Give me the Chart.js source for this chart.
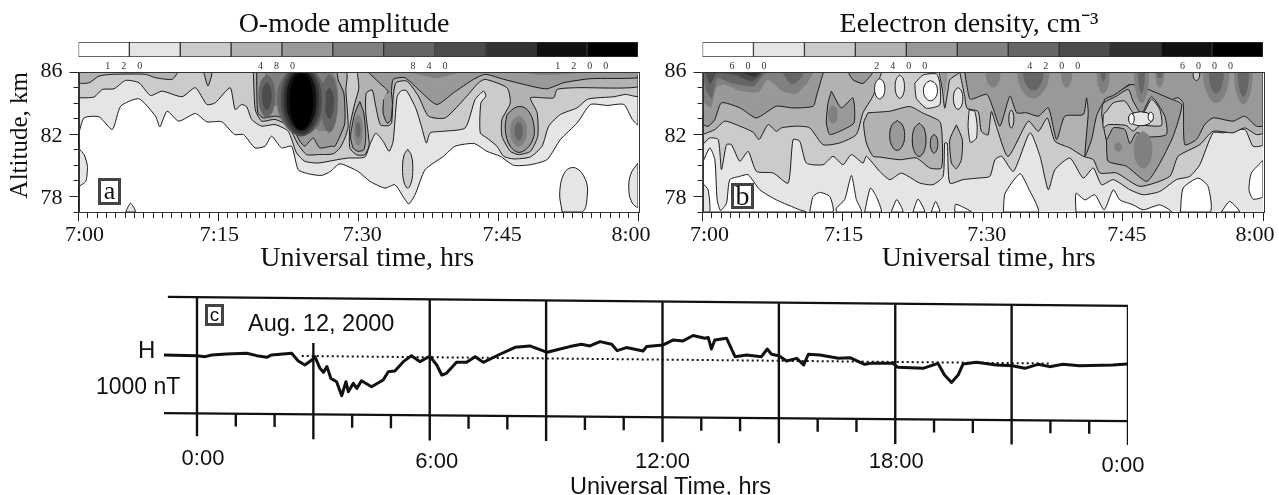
<!DOCTYPE html>
<html><head><meta charset="utf-8">
<style>
html,body{margin:0;padding:0;background:#fff;width:1279px;height:495px;overflow:hidden}
canvas{position:absolute}
.t{position:absolute;color:#111;white-space:nowrap;line-height:1}
.box{position:absolute;border:3px solid #444;box-sizing:border-box;text-align:center;color:#111}
</style>
<script src="https://cdn.jsdelivr.net/npm/chart.js@4"></script>
</head><body>
<script>
// ---------- shared values ----------
const levelColors=['#ffffff','#e5e5e5','#cbcbcb','#b2b2b2','#999999','#808080','#666666','#4c4c4c','#333333','#111111','#000000'];
const ampBand=120, denBand=600;
const ampTicks=[120,480,840,1200], denTicks=[600,2400,4200,6000];
const timeTicks=[0,15,30,45,60], timeLabels=['7:00','7:15','7:30','7:45','8:00'];
const altTicks=[78,82,86];

// ---------- panel a contours: [minute after 7:00, altitude km] ----------
const aL1=[[0,81.98],[.6,83.05],[2.2,83.12],[3.63,82.3],[4.52,83.8],[6.48,84.28],[8.26,83.16],[8.72,82.47],[9.5,83.48],[10.75,82.84],[12.53,83.33],[13.77,82.8],[15.37,82.8],[16.73,81.98],[17.69,81.98],[18.93,81.12],[20,81.23],[20.71,81.87],[21.78,81.12],[22.85,81.23],[23.56,79.72],[24.63,79.46],[26.05,79.35],[27,79.6],[28.03,80.1],[30,79.6],[31.25,78.97],[32.87,78.54],[33.94,78.75],[35.38,77.53],[36.09,78.11],[37.17,79.72],[39.14,80.58],[40.39,81.23],[42.44,81.4],[43.8,80.9],[45.23,80.58],[46.67,80],[48.46,80.04],[50.25,80.37],[51.68,81.66],[53.48,82.73],[54.91,83.91],[56.7,83.85],[58.49,83.91],[59.39,82.95],[60,82.62],[60,86],[0,86]];
const aL1b=[[0,81.1],[.6,80.69],[.96,79.94],[.78,78.97],[0,78.69]];
const aL1c=[[5.05,77],[5.58,77.57],[6.12,77]];
const aL1d=[[51.86,77],[51.61,78.32],[52.22,79.61],[53.3,79.83],[54.37,79.08],[54.55,78],[54.01,77]];
const aL1e=[[60,80.15],[59.2,79.4],[59.03,78.32],[59.4,77.57],[60,77.35]];
const aL2=[[0,84.34],[1.67,84.39],[2.56,84.88],[3.81,84.92],[5.05,85.46],[6.48,85.31],[7.72,84.49],[8.97,84.77],[11.1,84.41],[12.53,84.99],[13.77,83.91],[14.66,84.02],[16.26,84.99],[16.8,83.59],[17.5,83.91],[18.04,83.76],[18.58,82.95],[19.64,82.52],[21.07,82.62],[22.49,82.19],[23.38,80.8],[24.27,80.26],[25.69,80.15],[27.83,80.37],[28.92,80.47],[30.7,80.53],[31.24,81.32],[31.88,82.07],[32.67,81.54],[33.31,80.9],[33.74,81.54],[34.17,84.42],[34.63,84.8],[35.17,84.8],[36.17,83.67],[36.78,82.5],[37.31,81.43],[37.71,82.09],[39.14,82.19],[41.47,82.41],[42.54,84.24],[43.44,84.77],[43.69,84.45],[43.15,84.02],[43.08,82.09],[43.8,81.76],[44.87,81.23],[45.59,80.58],[46.67,80.41],[48.46,80.54],[49.71,81.23],[50.43,82.52],[51.68,83.27],[53.48,83.7],[54.55,84.24],[55.63,84.34],[57.42,84.41],[58.67,84.56],[60,84.45],[60,86],[0,86]];
const aL3a=[[18.75,86],[18.86,84.24],[19,83.48],[19.64,82.84],[21.07,82.95],[22.49,82.52],[23.56,81.33],[24.45,80.69],[25.69,80.69],[27.31,80.74],[28.03,81.11],[28.56,81.75],[28.92,82.5],[28.67,84.85],[28.67,86]];
const aL3b=[[0,86],[0,85.31],[1.14,85.31],[2.2,85.74],[3.63,85.85],[7.19,85.85],[8.26,85.63],[10.04,85.53],[10.57,86]];
const aL3c=[[13.42,86],[13.88,85.1],[14.31,86]];
const aL3d=[[29.9,86],[30.06,84.95],[29.63,83.99],[29.1,82.5],[29.1,81.11],[29.81,80.68],[30.7,80.68],[31.17,81.32],[30.81,83.35],[30.85,84.63],[31.49,84.85],[31.88,83.78],[32.38,82.6],[33.24,82.55],[33.58,82.73],[33.76,84.45],[34.05,85.31],[35.2,85.42],[36.45,84.45],[37.53,83.16],[39.32,83.05],[41.65,84.45],[42.9,85.31],[43.62,85.53],[45.95,84.99],[46.31,84.02],[45.41,82.95],[45.41,81.87],[46.31,80.9],[47.2,80.69],[48.46,80.9],[49.25,81.87],[49.18,83.38],[48.46,84.34],[49.89,84.34],[50.97,84.34],[51.33,84.88],[53.48,84.99],[60,85.05],[60,86]];
const aL4a=[[19.1,86],[19.22,83.38],[19.82,83.05],[21.25,83.16],[22.67,82.73],[23.74,81.55],[24.27,81.23],[25.16,81.76],[25.87,81.12],[27.12,81.23],[27.49,81.22],[28.03,81.86],[28.56,82.71],[28.46,84.63],[27.85,85.49],[27.67,86],[26.9,86],[26.5,85.5],[26.2,86]];
const aL4b=[[30.17,84.1],[30.6,83.35],[30.81,81.86],[30.6,81],[29.99,80.9],[29.46,81.11],[29.17,81.86],[29.63,83.35]];
const aL4c=[[31.06,86],[32.31,85.28],[33.2,84.74],[32.74,84.2],[32.67,83.35],[33.1,82.71],[33.49,82.9],[33.67,84],[33.56,84.74],[33.76,85.53],[35.02,85.63],[36.45,84.88],[38.42,83.91],[40.22,84.67],[42.37,85.53],[43.62,85.85],[45.59,85.53],[48.82,85.05],[50.25,84.92],[52.04,85.31],[54.91,85.57],[60,85.63],[60,86]];
const aL4d=[[45.95,83.27],[47.03,83.76],[48.1,83.59],[48.82,82.62],[48.64,81.55],[47.38,80.84],[46.31,81.23],[45.77,82.3]];
const aL5a=[[19.6,86],[19.6,83.6],[21.3,83.5],[23,83],[24,82],[24.5,81.6],[25,82.1],[25.9,81.6],[27.3,81.7],[28,83],[28.2,84.5],[27.5,85.8],[27.5,86]];
const aL5b=[[33.5,86],[35.5,85.8],[37,85.2],[38.4,84.4],[39.8,85],[41.5,85.7],[42.5,86]];
const aL5c=[[44.5,86],[46.5,85.6],[50,85.4],[52,85.7],[55,85.8],[60,85.85],[60,86]];
const aL6a=[[20,86],[20,83.9],[21.5,83.8],[23,83.5],[24,82.5],[25,82.5],[26,82.2],[27,82.3],[27.7,83.5],[27.8,85],[27.2,86]];
const aL6b=[[34,86],[36,85.9],[38.3,85.6],[40.5,85.9],[41,86]];
const aL6c=[[47,86],[50,85.8],[53,85.9],[54,86]];
// extents of closed ovals: [level, centre min, centre km, half-width min, half-height km]
const aOvals=[[2,35.3,79.78,.55,1.25],[5,29.99,82.28,.5,1.0],[6,29.99,82.28,.25,.5],[4,33.05,84,.3,.7],[5,47.2,82.2,.9,1.0],[6,47.2,82.2,.45,.6],
 [6,20.2,84.45,.9,1.4],[7,20.2,84.45,.5,.9],[6,26.9,84,.9,1.9],[7,26.9,84,.5,1.0],
 [6,23.9,84.2,2.6,2.3],[7,23.9,84.2,2.2,2.35],[8,23.9,84.2,1.9,2.2],[9,23.9,84.2,1.6,2.0],[10,23.9,84.15,1.25,1.85]];

// ---------- panel b contours ----------
const bBase=[[0,77],[60,77],[60,86],[0,86]];
const bW=[
 [[0,80.15],[.78,81.12],[1.32,80.37],[1.57,77.78],[1.93,77.1],[2.57,77.57],[2.92,79.08],[3.99,79.29],[4.88,79.4],[6.13,78.43],[7.91,77.78],[10.41,77.14],[11.12,77],[0,77]],
 [[11.48,77],[11.84,78],[12.55,78.26],[13.62,78],[13.97,77]],
 [[14.33,77],[14.33,77.25],[15.22,77.8],[15.94,79.35],[16.47,77.8],[17,77]],
 [[17.36,77],[17.97,78.54],[18.6,78],[19.14,77]],
 [[20.2,77],[20.8,77.8],[21.46,77]],
 [[22.53,77],[23.07,77.83],[23.78,77]],
 [[24.49,77],[24.96,77.68],[25.4,77]],
 [[27,77],[27.1,77.5],[28.8,77]],
 [[32.21,77],[32.39,78.2],[33.99,79.46],[34.88,78.54],[35.95,77]],
 [[39.98,77],[39.98,78.2],[40.94,77.78],[42,78.11],[43,77.14],[43.97,78.43],[44.68,77.78],[46.11,77.46],[47.17,77.14],[48.95,77.46],[50.2,77]],
 [[51.16,77],[51.45,78.54],[53.05,79.18],[54.12,78.65],[54.37,77]],
 [[55.54,77],[56.43,77.68],[57.5,77]],
 [[60,80.32],[58.75,79.5],[58.5,78.43],[58.93,77.83],[60,78]]
];
const bE=[[0,78.86],[.6,78.43],[.78,77],[0,77]];
const bL2=[[0,81.33],[.78,81.76],[1.68,81.66],[2.03,79.72],[2.57,81.33],[3.1,81.33],[3.99,80.26],[4.88,80.9],[5.78,79.61],[7.56,79.51],[9.16,78.86],[9.7,81.66],[10.41,81.55],[11.12,80.15],[12.91,80.04],[13.97,80.58],[15.04,80.04],[15.94,80.69],[17.18,80.15],[17.54,80.58],[18.97,79.61],[20.05,79.08],[21.3,79.5],[23.26,78.86],[24.68,78.76],[25.75,79.29],[25.93,81.43],[26.2,81.43],[26.47,78.86],[27.89,79.08],[29.68,79.19],[30.75,79.29],[31.32,80.37],[32.03,80.58],[33.28,79.61],[35.06,82.09],[36.13,80.58],[37.02,78.43],[37.73,79.72],[39.33,80.47],[40.76,79.18],[41.83,79.83],[42.72,78.75],[43.97,79.08],[45.75,78.43],[47.17,78.11],[48.95,78.32],[50.73,79.08],[52.16,79.29],[53.23,80.04],[54.65,82.09],[55.72,82.09],[58.04,82.3],[58.93,81.23],[60,81.33],[60,86],[0,86]];
const bL3a=[[0,81.98],[1.32,82.3],[2.39,82.84],[3.99,82.52],[5.42,82.13],[6.06,81.66],[7.02,82.62],[7.91,82.19],[8.45,82.41],[10.05,82.52],[11.48,82.41],[12.91,81.33],[14.69,81.44],[16.47,81.98],[17.18,83.38],[18.25,84.45],[18.97,85.63],[19.1,86],[0,86]];
const bL3b=[[17.72,83.38],[20.04,83.48],[22.19,83.78],[23.62,83.35],[25.4,82.82],[25.65,81.86],[25.58,79.83],[24.33,79.83],[22.9,80.47],[21.12,80.36],[18.98,80.53],[18.25,80.58],[17.54,81.44],[17.25,82.73]];
const bL3c=[[27.18,82.6],[27.82,81.64],[27.71,80.36],[27.18,79.78],[26.65,80.15],[26.47,81.64]];
const bL3d=[[25.33,86],[25.68,84.85],[25.93,83.67],[26.29,84.85],[26.47,85.5],[27.54,86]];
const bL3e=[[27.54,86],[28.07,84.42],[28.32,83.67],[29.5,83.46],[29.85,82.18],[30.57,81.96],[30.92,83.46],[31.46,82.5],[32.71,80.57],[34.88,82.84],[35.95,82.19],[36.91,83.05],[37.73,81.55],[39.33,81.12],[40.76,80.58],[41.83,80.37],[42.54,79.51],[44.32,79.51],[46.82,78.65],[50.02,79.29],[50.91,80.58],[53.23,81.33],[54.65,82.19],[56.79,82.09],[58.04,82.41],[59.28,81.98],[60,82.09],[60,86]];
const bL4a=[[0,82.62],[.6,82.51],[1.32,82.95],[2.03,84.02],[3.99,83.7],[5.78,83.05],[7.91,83.8],[9.7,83.69],[11.84,83.8],[12.2,84.45],[12.91,85.91],[13.08,86],[0,86]];
const bL4b=[[13.8,84.77],[14.87,83.7],[16.1,84.34],[16.22,82.73],[14.69,82.19],[13.62,81.98],[13.26,82.73],[13.44,84.02]];
const bL4c=[[15.58,86],[16.1,85.5],[17.18,85.27],[18.25,85.96],[18.25,86]];
const bL4d=[[28.07,86],[28.32,85.06],[28.68,84.25],[30.43,84.56],[31.14,83.6],[31.85,82.52],[32.92,84.45],[33.63,83.38],[34.7,83.38],[35.95,83.16],[37.02,83.7],[37.91,81.66],[38.8,83.16],[40.76,83.27],[41.11,84.34],[41.29,83.38],[40.94,80.58],[41.65,81.66],[42.18,83.16],[42.9,84.02],[44.32,84.56],[45.75,85.2],[46.1,84.24],[46.99,83.38],[48.06,84.45],[49.49,83.16],[50.38,84.24],[50.91,84.34],[51.45,84.02],[51.62,81.33],[52.87,81.66],[53.76,82.62],[54.65,83.05],[56.79,82.84],[58.04,83.16],[59.28,82.52],[60,82.56],[60,86]];
const bBowl=[[43.25,81.44],[43.43,80.26],[45.39,79.94],[47.53,78.97],[48.77,79.94],[50.38,81.87],[51.3,83.9],[50,84.3],[46,85.2],[44,84.5],[43,84.2]];
const bHoleB=[[42.72,83.27],[42.9,83.98],[44.32,84.45],[45.57,84.88],[46.1,84.13],[46.99,83.33],[48.06,84.41],[49.49,83.16],[49.67,81.98],[47.88,81.83],[46.46,82.09],[45.75,81.4],[45.21,82.3],[43.97,82.41],[43.25,81.66]];
const bHoleC=[[42.9,83.27],[42.9,82.41],[43.43,82.62],[45.39,82.56],[46.1,82.19],[46.81,82.56],[49.13,82.56],[48.95,83.59],[48.06,84.24],[46.99,83.16],[46.1,83.38],[45.21,84.13],[43.97,84.02],[43.25,83.48]];
const bFinger=[[28.54,83.57],[29.14,83.46],[29.39,82.6],[29.32,81.75],[28.68,81.47],[28.43,82.5]];
const bTopRing=[[22.72,85.28],[23.61,85.81],[25.04,85.87],[25.4,85.28],[25.4,83.89],[23.97,83.67],[22.9,84.31]];
const bL5=[[0,83.3],[.7,83.1],[1.3,83.7],[2,84.8],[4,84.2],[5.8,83.8],[7.9,84.3],[9.7,84.2],[11.5,84.4],[12.2,85.2],[12.7,86],[0,86]];
const bL6=[[.2,84],[.9,83.7],[1.5,85],[2.3,85.2],[4,84.8],[6,84.7],[7,85.5],[8.5,84.8],[10,84.6],[11.2,85.3],[11.8,86],[0,86]];
const bL7a=[[.4,84.8],[1,84.3],[1.6,85.6],[3,85.3],[5.5,85.1],[6.5,85.8],[6.9,86],[0,86]];
const bL7b=[[8.5,86],[9.5,85.2],[10.2,85.4],[10.8,86]];
const bL8=[[.3,86],[.8,85.2],[1.5,85.9],[3.5,85.8],[5.3,85.4],[6.4,86]];
const bL9=[[4,86],[5.5,85.7],[6.2,86]];
const bWedge=[[25.5,86],[25.93,84.5],[26.2,86]];
const bOvalsLined=[[0,18.97,84.92,.55,.65],[1,21.12,85.06,.5,.75],[0,24.4,84.8,.75,.65],[1,27.36,84.3,.5,.7],[4,20.84,81.92,.8,.96],[4,23.19,81.64,.73,1.07],[4,24.79,81.39,.4,.6],[2,33.06,82.98,.27,.58],[2,52.87,85.85,.35,.4]];
const bOvalsInner=[[1,46.9,83,1.3,.45],[0,45.92,82.99,.3,.35],[0,47.99,83.12,.28,.3]];
const bOvalsShade=[[5,13.97,83.27,.5,.6],[5,47.17,81.01,1,1.2],[5,44.5,81.18,.4,.3],
 [5,31.1,86,.8,1],[5,35.41,86,1.7,1.7],[5,38.98,86,.6,1],[5,42.9,86,.7,1.4],[5,47,86,.8,2],[5,48.95,86,.5,1],[5,55,86,1.4,2],[5,57.9,86,1,2.1],
 [6,35.41,86,1.1,1.2],[6,42.9,86,.3,.6],[6,47,86,.35,1.4],[6,48.95,86,.3,.4],[6,55,86,.8,1.4],[6,57.9,86,.6,1.6]];

// ---------- panel c ----------
const hHours=[-.85,0,.21,.38,.76,1.28,1.54,1.8,1.92,2.44,2.61,2.78,2.96,3.04,3.17,3.26,3.35,3.45,3.6,3.73,3.84,3.9,4.03,4.12,4.24,4.5,4.8,4.93,5.1,5.32,5.53,5.75,6,6.18,6.31,6.43,6.69,6.95,7.17,7.38,7.81,8.2,8.58,9.03,9.36,9.61,9.91,10.13,10.39,10.69,10.83,11.07,11.5,11.59,12.02,12.28,12.53,12.79,13.09,13.18,13.26,13.35,13.65,13.87,14.17,14.55,14.7,14.81,15,15.2,15.46,15.64,15.76,16.06,16.53,16.83,17.21,17.38,17.94,18.07,18.72,19.1,19.27,19.45,19.62,19.75,20.09,20.61,21.02,21.34,21.68,21.98,22.32,22.75,23.61,23.98];
const hValues=[0,-12,-29,0,17,29,-12,-40,0,29,-104,-172,-86,-29,-230,-299,-201,-402,-460,-701,-460,-632,-489,-575,-443,-546,-431,-287,-276,-115,-12,-115,-23,-172,-345,-316,-126,-126,-29,-126,12,132,155,46,103,144,184,155,230,184,75,127,69,144,172,259,242,334,288,299,103,259,288,-29,0,-29,103,12,-12,-104,-58,-172,12,0,-58,-46,-161,-144,-144,-213,-230,-144,-345,-472,-345,-155,-127,-172,-184,-230,-161,-201,-161,-184,-172,-155];
const frameTop=[[-.75,1000],[24,845]];
const frameBottom=[[-.85,-1000],[24,-1138]];
const quietLine=[[2.7,-17],[22,-147]];
const gridHours=[0,3,6,9,12,15,18,21,24];
const gridTop=[1000,207,945,930,905,890,875,860,845];
const gridBottom=[-1400,-1450,-1470,-1480,-1500,-1520,-1530,-1540,-1550];
const minorHours=[1,2,4,5,7,8,10,11,13,14,16,17,19,20,22,23];
const minorTop=[-1010,-1020,-1030,-1040,-1050,-1060,-1070,-1075,-1085,-1090,-1100,-1105,-1115,-1120,-1128,-1133];
const minorBottom=[-1230,-1240,-1250,-1260,-1270,-1280,-1290,-1295,-1305,-1310,-1320,-1325,-1335,-1340,-1348,-1353];
const cTickHours=[0,6,12,18,24], cTickLabels=['0:00','6:00','12:00','18:00','0:00'];

// ---------- helpers ----------
const SERIF='"Liberation Serif"', SANS='"Liberation Sans"';
const ovalShape=[[0,1],[.7,.7],[1,0],[.7,-.7],[0,-1],[-.7,-.7],[-1,0],[-.7,.7]];
function poly(pts,level,lined,tension){
  const closed=pts.concat([pts[0]]);
  return {data:closed.map(p=>({x:p[0],y:p[1]})),showLine:true,fill:'shape',backgroundColor:levelColors[level],
    borderColor:lined?'#1a1a1a':levelColors[level],borderWidth:lined?1:0,pointRadius:0,pointHoverRadius:0,tension:tension===undefined?.2:tension,xAxisID:'x',yAxisID:'y'};
}
function ovals(list,lined){
  return list.map(o=>poly(ovalShape.map(s=>[o[1]+s[0]*o[3],o[2]+s[1]*o[4]]),o[0],lined,.4));
}
const framePlugin={id:'frame',afterDatasetsDraw(c){const a=c.chartArea,x=c.ctx;x.save();x.strokeStyle='#333';x.lineWidth=1;
  x.strokeRect(Math.round(a.left)+.5,Math.round(a.top)+.5,Math.round(a.width),Math.round(a.height));x.restore();}};
function mk(left,top,w,h){const c=document.createElement('canvas');c.width=w;c.height=h;c.style.left=left+'px';c.style.top=top+'px';c.style.width=w+'px';c.style.height=h+'px';document.body.appendChild(c);return c;}
// nudges each tick label by the offset seen in the picture
function nudge(s,shifts){ if(s._nudged) return; s._nudged=true; const f=s._computeLabelItems;
  s._computeLabelItems=function(a){const it=f.call(this,a); it.forEach((o,i)=>{const d=shifts[i]||[0,0]; o.options.translation=[o.options.translation[0]+d[0],o.options.translation[1]+d[1]];}); return it;};}
function shiftTitle(s,dx){ if(s._tShift) return; s._tShift=true; const f=s.drawTitle;
  s.drawTitle=function(a){const c=this.ctx;c.save();c.translate(dx,0);f.call(this,a);c.restore();};}
function contour(left,plotLeft,plotRight,datasets,yTitle,shifts,titleDx){
  const top=60,plotTop=72,plotBottom=212,W=Math.min(plotRight+30,1279)-left,H=282-top;
  new Chart(mk(left,top,W,H),{type:'scatter',data:{datasets:datasets.slice().reverse()},plugins:[framePlugin],options:{
    responsive:false,animation:false,events:[],
    layout:{padding:{top:plotTop-top,right:W-(plotRight-left),left:0,bottom:0}},
    plugins:{legend:{display:false},tooltip:{enabled:false}},
    scales:{
      x:{type:'linear',position:'bottom',weight:0,min:0,max:60,afterFit:s=>{s.height=0;s.paddingLeft=0;s.paddingRight=0},
        ticks:{stepSize:1,autoSkip:false,display:false,maxRotation:0},
        grid:{drawOnChartArea:false,tickLength:6,tickColor:'#222',tickWidth:1},border:{color:'#222'}},
      xM:{type:'linear',position:'bottom',weight:1,min:0,max:60,afterFit:s=>{s.height=H-(plotBottom-top);s.paddingLeft=0;s.paddingRight=0;nudge(s,shifts);shiftTitle(s,titleDx)},
        afterBuildTicks:s=>{s.ticks=timeTicks.map(v=>({value:v}))},
        ticks:{autoSkip:false,maxRotation:0,padding:1,font:{family:SERIF,size:22},color:'#111',callback:v=>timeLabels[timeTicks.indexOf(v)]},
        grid:{drawOnChartArea:false,tickLength:9,tickColor:'#222',tickWidth:1},border:{display:false},
        title:{display:true,text:'Universal time, hrs',color:'#111',font:{family:SERIF,size:28},padding:{top:0,bottom:7}}},
      y:{type:'linear',position:'left',weight:0,min:77,max:86,afterFit:s=>{s.width=0;s.paddingTop=0;s.paddingBottom=0},
        ticks:{stepSize:1,display:false},
        grid:{drawOnChartArea:false,tickLength:5,tickColor:'#222',tickWidth:1},border:{color:'#222'}},
      yM:{type:'linear',position:'left',weight:1,min:77,max:86,afterFit:s=>{s.width=plotLeft-left;s.paddingTop=0;s.paddingBottom=0;nudge(s,[[0,2],[0,2],[0,-1]])},
        afterBuildTicks:s=>{s.ticks=altTicks.map(v=>({value:v}))},
        ticks:{autoSkip:false,padding:7,font:{family:SERIF,size:22},color:'#111',callback:v=>String(v)},
        grid:{drawOnChartArea:false,tickLength:9,tickColor:'#222',tickWidth:1},border:{display:false},
        title:{display:!!yTitle,text:yTitle||'',align:'end',color:'#111',font:{family:SERIF,size:25},padding:{top:5,bottom:0}}}
    }}});
}
function colorbar(left,plotLeft,plotRight,band,ticks,title){
  const W=plotRight+1-left,H=72,n=levelColors.length;
  const spaced={id:'spaced',afterLayout(c){const s=c.scales.x,d=s.drawLabels;if(s._sp)return;s._sp=1;
    s.drawLabels=function(a){c.ctx.letterSpacing='11px';d.call(this,a);c.ctx.letterSpacing='0px';};}};
  new Chart(mk(left,0,W,H),{type:'bar',data:{labels:[''],datasets:levelColors.map(col=>({data:[band],backgroundColor:col,borderColor:'#333',borderWidth:1,borderSkipped:false,barPercentage:1,categoryPercentage:1}))},
    plugins:[spaced],options:{indexAxis:'y',responsive:false,animation:false,events:[],
    layout:{padding:{right:1}},
    plugins:{legend:{display:false},tooltip:{enabled:false},
      title:{display:true,text:title,color:'#111',font:{family:SERIF,size:28,weight:'normal'},padding:{top:8,bottom:.4}}},
    scales:{
      x:{type:'linear',stacked:true,min:0,max:band*n,afterFit:s=>{s.height=15;s.paddingLeft=0;s.paddingRight=0},
        afterBuildTicks:s=>{s.ticks=ticks.map(v=>({value:v}))},
        ticks:{autoSkip:false,maxRotation:0,padding:3,font:{family:SERIF,size:10},color:'#333',callback:v=>String(v)},
        grid:{display:false,drawTicks:false},border:{display:false}},
      y:{stacked:true,afterFit:s=>{s.width=plotLeft-left},ticks:{display:false},grid:{display:false,drawTicks:false},border:{display:false}}
    }}});
}
function label(text,x,y,font,size){const d=document.createElement('div');d.className='t';d.textContent=text;d.style.left=x+'px';d.style.top=y+'px';d.style.fontFamily=font;d.style.fontSize=size+'px';document.body.appendChild(d);}
function boxed(text,x,y,w,h,font,size,bw){const d=document.createElement('div');d.className='box';d.textContent=text;d.style.left=x+'px';d.style.top=y+'px';d.style.width=w+'px';d.style.height=h+'px';d.style.lineHeight=(h-2*bw-1)+'px';d.style.fontFamily=font;d.style.fontSize=size+'px';d.style.borderWidth=bw+'px';document.body.appendChild(d);}

// ---------- panel a ----------
colorbar(50,78.5,638,ampBand,ampTicks,'O-mode amplitude');
contour(0,78.5,638,[
  poly(aL1,1,true),poly(aL1b,1,true),poly(aL1c,1,true),poly(aL1d,1,true,.4),poly(aL1e,1,true,.4),
  poly(aL2,2,true),...ovals([aOvals[0]],true),
  poly(aL3a,3,true),poly(aL3b,3,true),poly(aL3c,3,true),poly(aL3d,3,true),
  poly(aL4a,4,true),poly(aL4b,4,true),poly(aL4c,4,true),poly(aL4d,4,true,.4),
  poly(aL5a,4,false),poly(aL5b,4,false),poly(aL5c,4,false),
  poly(aL6a,5,false),poly(aL6b,5,false),poly(aL6c,5,false),
  ...ovals(aOvals.slice(1),false)
],'Altitude, km',[[6,0],[1,0],[4,0],[4,0],[-7,0]],9);

// ---------- panel b ----------
colorbar(675,702.5,1263,denBand,denTicks,'Eelectron density, cm\u207B\u00B3');
contour(660,702.5,1263,[
  poly(bBase,1,false,0),...bW.map(p=>poly(p,0,true)),poly(bE,1,true),
  poly(bL2,2,true),
  poly(bL3a,3,true),poly(bL3b,3,true),poly(bL3c,3,true),poly(bL3d,3,true),poly(bL3e,3,true),
  poly(bL4a,4,true),poly(bL4b,4,true),poly(bL4c,4,true),poly(bL4d,4,true),poly(bBowl,4,true),
  poly(bHoleB,3,true),poly(bHoleC,2,true),poly(bFinger,1,true),poly(bTopRing,1,true),
  ...ovals(bOvalsLined,true),...ovals(bOvalsInner,true),
  poly(bWedge,4,false),
  poly(bL5,4,false),poly(bL6,5,false),poly(bL7a,6,false),poly(bL7b,6,false),poly(bL8,7,false),poly(bL9,8,false),
  ...ovals(bOvalsShade,false)
],null,[[7,0],[1,0],[4,0],[4,0],[-8,0]],6);

boxed('a',98,178,23,27,SERIF,26,3);
boxed('b',731,183,23,26,SERIF,28,3);

// ---------- panel c ----------
(function(){
  const lineDs=(pts,w,extra)=>Object.assign({data:pts.map(p=>({x:p[0],y:p[1]})),showLine:true,borderColor:'#111',borderWidth:w,pointRadius:0,pointHoverRadius:0,fill:false,tension:0},extra||{});
  const grid=[],minor=[];
  gridHours.forEach((h,i)=>{grid.push([h,gridTop[i]],[h,gridBottom[i]],[h,NaN]);});
  minorHours.forEach((h,i)=>{minor.push([h,minorTop[i]],[h,minorBottom[i]],[h,NaN]);});
  const left=120,top=285,W=1060,H=210,plotL=158.2,plotR=1128,plotT=291,plotB=448;
  new Chart(mk(left,top,W,H),{type:'scatter',data:{datasets:[
    lineDs(hHours.map((h,i)=>[h,hValues[i]]),3,{borderJoinStyle:'round'}),
    lineDs(frameTop,2.2),lineDs(frameBottom,2.2),
    lineDs(quietLine,2,{borderDash:[2,3]}),
    lineDs(grid,2.4),lineDs(minor,2.4)
  ]},options:{responsive:false,animation:false,events:[],
    layout:{padding:{top:plotT-top,right:W-(plotR-left)}},
    plugins:{legend:{display:false},tooltip:{enabled:false}},
    scales:{
      x:{type:'linear',min:-1,max:24,afterFit:s=>{s.height=H-(plotB-top);s.paddingLeft=0;s.paddingRight=0;nudge(s,[[6,-2],[7,1],[0,1],[1,1],[-5,5]])},
        afterBuildTicks:s=>{s.ticks=cTickHours.map(v=>({value:v}))},
        ticks:{autoSkip:false,maxRotation:0,padding:0,font:{family:SANS,size:22},color:'#111',callback:v=>cTickLabels[cTickHours.indexOf(v)]},
        grid:{display:false,drawTicks:false},border:{display:false}},
      y:{type:'linear',min:-1600,max:1100,afterFit:s=>{s.width=plotL-left},ticks:{display:false},grid:{display:false,drawTicks:false},border:{display:false}}
    }}});
})();
boxed('c',205,304,19,22,SANS,19,3);
label('Aug. 12, 2000',248,312,SANS,23.5);
label('H',138,338,SANS,24);
label('1000 nT',96,375,SANS,23);
label('Universal Time, hrs',570,475,SANS,23.5);
</script>
</body></html>
